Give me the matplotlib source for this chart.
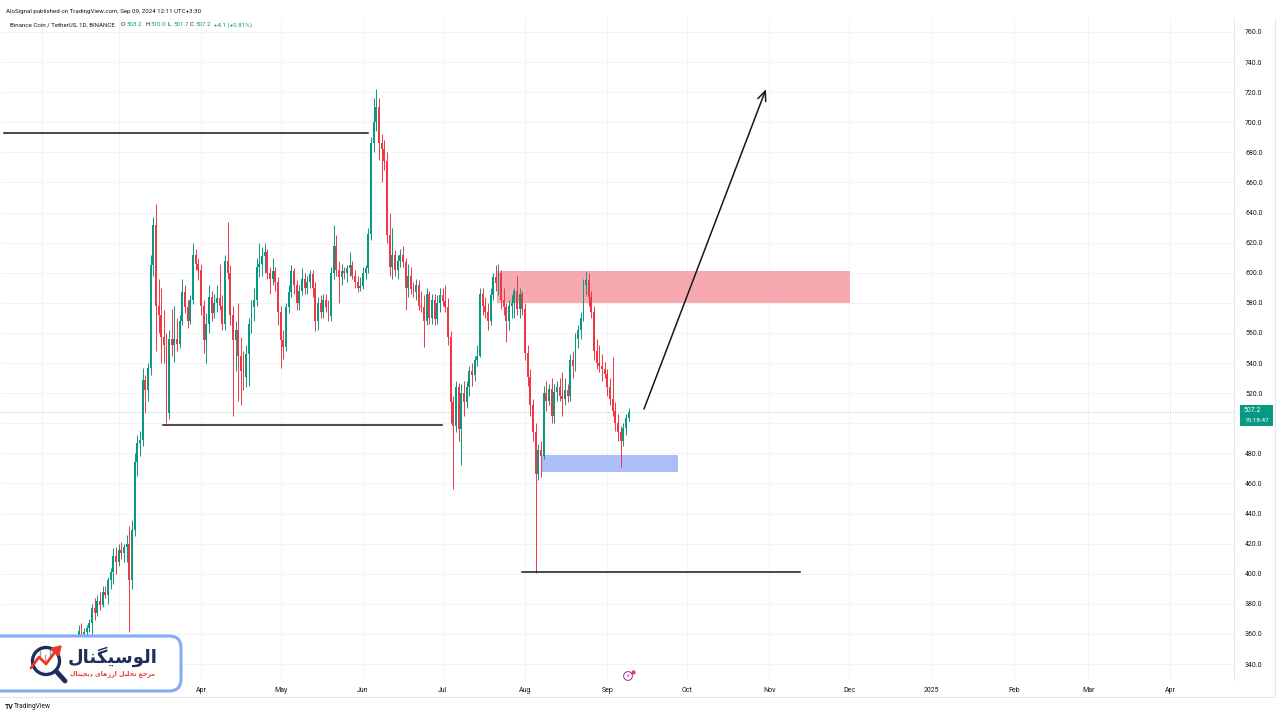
import numpy as np
import pandas as pd
import matplotlib
matplotlib.use("Agg")
from matplotlib import pyplot as plt
import matplotlib.dates as mdates
from matplotlib.patches import Rectangle, FancyBboxPatch, Circle
from matplotlib.lines import Line2D

# daily BNB/USDT candles, 2024-02-10 .. 2024-09-09
start = "2024-02-10"
opens = [
    318, 324, 329, 346, 347, 353, 362, 360, 361, 364, 367, 377, 374, 382, 379, 388, 386, 396, 401, 412,  # Feb
    408, 416, 414, 418, 420, 396, 429, 474, 487, 489, 529, 522, 537, 605, 632, 578, 572, 557, 552, 507,
    556, 552, 556, 553, 568, 587, 577, 568, 582, 612, 606,  # Mar
    602, 578, 555, 566, 584, 573, 580, 583, 578, 566, 608, 600, 572, 555, 562, 545, 535, 531, 546, 566,
    577, 582, 604, 606, 611, 614, 600, 596, 601, 594,  # Apr
    574, 555, 551, 577, 587, 601, 592, 580, 588, 596, 590, 594, 599, 590, 568, 580, 574, 582, 577, 571,
    600, 618, 602, 597, 601, 600, 603, 605, 598, 594, 590,  # May
    591, 600, 603, 626, 686, 700, 710, 686, 682, 674, 625, 604, 612, 602, 608, 612, 607, 590, 598, 589,
    587, 592, 578, 577, 568, 586, 570, 582, 569, 580,  # Jun
    585, 581, 577, 557, 514, 498, 524, 496, 520, 514, 524, 535, 532, 542, 545, 586, 578, 574, 568, 585,
    597, 593, 600, 582, 577, 568, 578, 580, 588, 576, 586,  # Jul
    576, 547, 531, 512, 494, 466, 482, 478, 520, 515, 523, 505, 521, 524, 518, 516, 522, 518, 542, 538,
    556, 562, 570, 592, 595, 584, 574, 548, 540, 538, 536,  # Aug
    533, 524, 516, 508, 500, 494, 488, 497, 503.2,  # Sep
]
highs = [
    327, 332, 348, 352, 356, 366, 367, 364, 366, 370, 380, 384, 386, 388, 392, 392, 398, 404, 417, 418,
    420, 421, 420, 426, 432, 436, 480, 492, 495, 537, 532, 540, 612, 637, 646, 596, 590, 575, 560, 562,
    576, 578, 570, 572, 596, 592, 582, 585, 620, 616, 610,
    606, 582, 573, 592, 588, 586, 592, 606, 585, 612, 634, 605, 578, 568, 580, 557, 548, 552, 570, 582,
    590, 610, 620, 617, 620, 616, 604, 610, 604, 597,
    578, 562, 580, 592, 605, 603, 595, 592, 603, 600, 598, 602, 602, 594, 584, 585, 586, 586, 582, 604,
    632, 625, 608, 606, 604, 605, 614, 608, 602, 598, 597,
    604, 605, 630, 690, 716, 722, 716, 692, 688, 680, 640, 630, 615, 612, 616, 618, 610, 606, 604, 594,
    596, 595, 588, 585, 590, 588, 586, 586, 585, 590,
    590, 592, 583, 561, 518, 528, 527, 526, 528, 528, 538, 540, 545, 552, 590, 590, 584, 580, 590, 600,
    605, 606, 602, 590, 580, 582, 585, 590, 598, 590, 588,
    580, 552, 536, 516, 500, 486, 488, 525, 528, 526, 530, 526, 528, 530, 534, 530, 526, 546, 548, 560,
    565, 574, 596, 601, 600, 588, 578, 556, 552, 546, 541,
    536, 530, 544, 514, 506, 498, 500, 506, 510.0,
]
lows = [
    316, 322, 327, 338, 344, 351, 356, 353, 357, 361, 360, 369, 372, 376, 378, 384, 380, 390, 393, 400,
    405, 410, 408, 408, 361, 390, 425, 465, 478, 485, 507, 515, 532, 598, 548, 560, 540, 540, 500, 503,
    545, 541, 548, 550, 565, 573, 563, 566, 579, 602, 595,
    572, 547, 540, 560, 568, 570, 574, 575, 562, 562, 596, 565, 505, 535, 515, 512, 522, 524, 525, 560,
    568, 578, 597, 598, 600, 596, 586, 592, 588, 565,
    537, 543, 548, 573, 584, 586, 575, 575, 585, 586, 586, 590, 584, 561, 562, 570, 570, 574, 568, 568,
    596, 598, 580, 592, 596, 594, 598, 596, 590, 587, 588,
    589, 596, 600, 622, 680, 694, 675, 660, 668, 620, 598, 596, 598, 596, 604, 604, 575, 584, 586, 584,
    582, 575, 574, 551, 565, 566, 566, 565, 566, 574,
    578, 574, 552, 500, 456, 494, 488, 472, 505, 510, 518, 525, 528, 538, 544, 572, 570, 562, 565, 582,
    588, 585, 576, 572, 554, 562, 570, 570, 572, 570, 572,
    542, 525, 505, 488, 400.5, 462, 464, 476, 508, 512, 500, 500, 515, 515, 505, 512, 514, 515, 530, 535,
    550, 556, 568, 585, 578, 570, 542, 536, 534, 528, 530,
    518, 512, 505, 495, 488, 471, 485, 492, 501.7,
]
closes = [
    324, 329, 346, 347, 353, 362, 360, 361, 364, 367, 377, 374, 382, 379, 388, 386, 396, 401, 412, 408,
    416, 414, 418, 420, 396, 429, 474, 487, 489, 529, 522, 537, 605, 632, 578, 572, 557, 552, 507, 556,
    552, 556, 553, 568, 587, 577, 568, 582, 612, 606, 602,
    578, 555, 566, 584, 573, 580, 583, 578, 566, 608, 600, 572, 555, 562, 545, 535, 531, 546, 566, 577,
    582, 604, 606, 611, 614, 600, 596, 601, 594, 574,
    555, 551, 577, 587, 601, 592, 580, 588, 596, 590, 594, 599, 590, 568, 580, 574, 582, 577, 571, 600,
    618, 602, 597, 601, 600, 603, 605, 598, 594, 590, 591,
    600, 603, 626, 686, 700, 710, 686, 682, 674, 625, 604, 612, 602, 608, 612, 607, 590, 598, 589, 587,
    592, 578, 577, 568, 586, 570, 582, 569, 580, 585,
    581, 577, 557, 514, 498, 524, 496, 520, 514, 524, 535, 532, 542, 545, 586, 578, 574, 568, 585, 597,
    593, 600, 582, 577, 568, 578, 580, 588, 576, 586, 576,
    547, 531, 512, 494, 466, 482, 478, 520, 515, 523, 505, 521, 524, 518, 516, 522, 518, 542, 538, 556,
    562, 570, 592, 595, 584, 574, 548, 540, 538, 536, 533,
    524, 516, 508, 500, 494, 488, 497, 503.2, 507.2,
]

price_ticks = list(range(340, 761, 20))
month_ticks = ["2024-02-01", "2024-03-01", "2024-04-01", "2024-05-01", "2024-06-01", "2024-07-01",
               "2024-08-01", "2024-09-01", "2024-10-01", "2024-11-01", "2024-12-01", "2025-01-01",
               "2025-02-01", "2025-03-01", "2025-04-01"]
month_labels = ["Feb", "Mar", "Apr", "May", "Jun", "Jul", "Aug", "Sep", "Oct", "Nov", "Dec", "2025",
                "Feb", "Mar", "Apr"]

# drawings on the chart
h_levels = [693, 499, 401]
h_starts = ["2024-01-18", "2024-03-17 17:00", "2024-07-31"]
h_ends = ["2024-06-02 22:00", "2024-06-30 17:00", "2024-11-12 12:00"]
sell_zone = [580, 601, "2024-07-21 10:00", "2024-12-01 10:00"]
buy_zone = [467.6, 478.9, "2024-08-07", "2024-09-27 14:00"]
arrow_from = ["2024-09-14 19:00", 509.5]
arrow_to = ["2024-10-30 17:00", 722]
last_price = 507.2

GREEN = "#089981"
RED = "#f23645"
TXT = "#131722"
UI = "Roboto"

def dn(s):
    return mdates.date2num(pd.Timestamp(s))

fig = plt.figure(figsize=(12.8, 7.2), dpi=100)
fig.patch.set_facecolor("white")
W, H = 1280, 720

ax = fig.add_axes([0, 40 / H, 1234 / W, 662 / H])
apr1 = dn("2024-04-01")
ax.set_xlim(apr1 - 201 / 2.656, apr1 + (1234 - 201) / 2.656)
ax.set_ylim(329.4, 769.3)

dates = mdates.date2num(pd.date_range(start, periods=len(closes), freq="D"))
o, h, l, c = map(np.array, (opens, highs, lows, closes))
col = np.where(c >= o, GREEN, RED)
ax.vlines(dates, l, h, colors=col, lw=0.7, zorder=3)
ax.bar(dates, np.maximum(np.abs(c - o), 0.7), bottom=np.minimum(o, c), width=0.72,
       color=col, lw=0, zorder=4)

# grid / axes styling
ax.yaxis.tick_right()
ax.set_yticks(price_ticks)
ax.set_yticklabels([f"{v:.1f}" for v in price_ticks], fontfamily=UI)
ax.tick_params(axis="y", length=0, pad=8, labelsize=5, labelcolor=TXT)
ax.set_xticks([dn(m) for m in month_ticks])
ax.set_xticklabels(month_labels, fontfamily=UI)
ax.tick_params(axis="x", length=0, pad=5, labelsize=5, labelcolor=TXT)
ax.grid(color="#f0f3fa", lw=0.6, zorder=0)
for s in ["top", "left", "bottom"]:
    ax.spines[s].set_visible(False)
ax.spines["right"].set_color("#e0e3eb")
ax.spines["right"].set_linewidth(0.6)

ax.axhline(last_price, color=GREEN, lw=0.6, ls=(0, (1, 2)), alpha=0.55, zorder=2)

# zones
for lo, hi, s, e in [sell_zone, buy_zone]:
    fc = "#f7a9b0" if lo > 550 else "#aabff7"
    ax.add_patch(Rectangle((dn(s), lo), dn(e) - dn(s), hi - lo, fc=fc, ec="none", zorder=2))

for lvl, s, e in zip(h_levels, h_starts, h_ends):
    ax.plot([dn(s), dn(e)], [lvl, lvl], color=TXT, lw=1.1, zorder=5)

ax.annotate("", xy=(dn(arrow_to[0]), arrow_to[1]), xytext=(dn(arrow_from[0]), arrow_from[1]),
            arrowprops=dict(arrowstyle="->,head_length=0.7,head_width=0.3", color=TXT, lw=1.1,
                            shrinkA=0, shrinkB=0), zorder=6)

# header
fs = 4.4
fig.text(6 / W, 1 - 11 / H, "AloSignal published on TradingView.com, Sep 09, 2024 12:11 UTC+3:30",
         fontsize=fs, color=TXT, fontfamily=UI, va="center")
fig.text(10 / W, 1 - 25 / H, "Binance Coin / TetherUS, 1D, BINANCE", fontsize=fs, color=TXT,
         fontfamily=UI, va="center")
for xp, lab, val in [(121, "O", "503.2"), (145, "H", "510.0"), (168, "L", "501.7"), (190, "C", "507.2")]:
    fig.text(xp / W, 1 - 25 / H, lab, fontsize=fs, color=TXT, fontfamily=UI, va="center")
    fig.text((xp + 5) / W, 1 - 25 / H, val, fontsize=fs, color=GREEN, fontfamily=UI, va="center")
fig.text(214 / W, 1 - 25 / H, "+4.1 (+0.81%)", fontsize=fs, color=GREEN, fontfamily=UI, va="center")

# last price tag
fig.add_artist(Rectangle((1240 / W, 1 - 426 / H), 33 / W, 21 / H, transform=fig.transFigure,
                         fc=GREEN, ec="none", zorder=3))
fig.text(1244 / W, 1 - 411 / H, "507.2", fontsize=5, color="white", fontfamily=UI, va="center", zorder=4)
fig.text(1244 / W, 1 - 420 / H, "15:18:47", fontsize=4.6, color="white", fontfamily=UI, va="center",
         zorder=4)

# outer borders
fig.add_artist(Line2D([0, 1275 / W], [1 - 697 / H] * 2, transform=fig.transFigure, color="#e0e3eb", lw=0.6))
fig.add_artist(Line2D([1275 / W] * 2, [1 - 697 / H, 1 - 18 / H], transform=fig.transFigure,
                      color="#e0e3eb", lw=0.6))

# small replay icon
fig.text(628 / W, 1 - 676 / H, "\u26a1", fontsize=4.5, color="#9c27b0", ha="center", va="center",
         family=["DejaVu Sans"],
         bbox=dict(boxstyle="circle,pad=0.3", fc="white", ec="#9c27b0", lw=0.7))
fig.add_artist(Line2D([632.5 / W], [1 - 671.5 / H], marker="o", ms=2, color=RED, transform=fig.transFigure))

# footer
fig.text(5 / W, 1 - 707 / H, "TV", fontsize=5, fontweight="bold", color=TXT, fontfamily=UI, va="center")
fig.text(14 / W, 1 - 707 / H, "TradingView", fontsize=4.8, color=TXT, fontfamily=UI, va="center")

# logo card (pixel coordinates)
lax = fig.add_axes([0, 1 - 700 / H, 190 / W, 70 / H])
lax.set_zorder(10)
lax.set_xlim(0, 190)
lax.set_ylim(700, 630)
lax.axis("off")
lax.add_patch(FancyBboxPatch((-40, 636), 221, 55, boxstyle="round,pad=0,rounding_size=12",
                             fc="white", ec="#86aaf3", lw=2.2))
NAVY = "#1f2d5c"
lax.add_patch(Circle((46, 661), 13.5, fill=False, ec=NAVY, lw=2.4))
lax.plot([56, 65], [671, 681], color=NAVY, lw=3.5, solid_capstyle="round")
for xc, y0, y1, cc in [(40, 651, 659, GREEN), (45, 655, 664, RED), (50, 649, 657, GREEN)]:
    lax.plot([xc, xc], [y0, y1], color=cc, lw=1.0, alpha=0.6)
lax.plot([31, 39, 46, 55], [668, 657, 664, 652], color="#e8392b", lw=2.0, solid_capstyle="round")
lax.annotate("", xy=(62, 645), xytext=(54, 653),
             arrowprops=dict(arrowstyle="-|>,head_length=0.5,head_width=0.3", color="#e8392b", lw=2.0,
                             shrinkA=0, shrinkB=0))
# Persian text in presentation forms (visual order)
title = "\uFEDD\uFE8E\uFEE8\uFB95\uFEF4\uFEB3\uFEEE\uFEDF\uFE8D"
subtitle = ("\uFEDD\uFE8E\uFE98\uFEF4\uFEA0\uFEF3\uFEA9 \uFEEF\uFE8E\uFEEB\uFEAF\uFEAD\uFE8D "
            "\uFEDE\uFEF4\uFEE0\uFEA4\uFE97 \uFECA\uFE9F\uFEAE\uFEE3")
lax.text(113, 657, title, fontsize=13, fontweight="bold", color=NAVY, ha="center", va="center",
         family=["DejaVu Sans"])
lax.text(113, 674, subtitle, fontsize=4.5, fontweight="bold", color="#e53d2f", ha="center", va="center",
         family=["DejaVu Sans"])

fig.savefig("out.png", dpi=100)
